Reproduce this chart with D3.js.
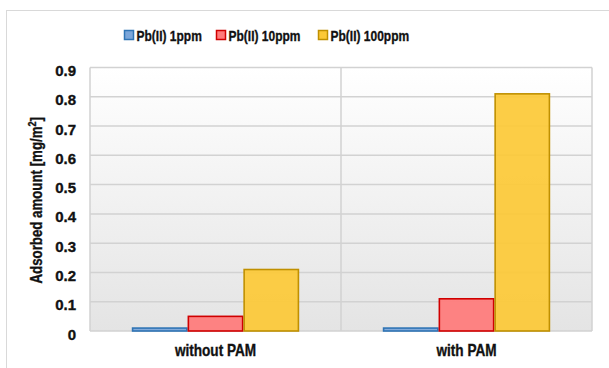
<!DOCTYPE html>
<html>
<head>
<meta charset="utf-8">
<script src="https://cdn.jsdelivr.net/npm/d3@7"></script>
<style>
  html, body { margin: 0; padding: 0; background: #fff; }
  svg { display: block; }
  text { font-family: "Liberation Sans", Arial, sans-serif; font-weight: bold; fill: #111; stroke: #111; stroke-width: 0.35px; }
</style>
</head>
<body>
<script>
// Adsorbed Pb(II) amount per sample condition
const categories = ["without PAM", "with PAM"];
const seriesNames = ["Pb(II) 1ppm", "Pb(II) 10ppm", "Pb(II) 100ppm"];
const pb1ppm = [0.01, 0.01];
const pb10ppm = [0.05, 0.11];
const pb100ppm = [0.21, 0.81];
const yTicks = [0, 0.1, 0.2, 0.3, 0.4, 0.5, 0.6, 0.7, 0.8, 0.9];
const yTickLabels = ["0", "0.1", "0.2", "0.3", "0.4", "0.5", "0.6", "0.7", "0.8", "0.9"];

const seriesValues = [pb1ppm, pb10ppm, pb100ppm];
const fills = ["#7ba6da", "#ff7a7a", "#fcc936"];
const strokes = ["#2f74b5", "#d00000", "#c09000"];

const W = 609, H = 368;
const plot = { left: 90, top: 67.5, right: 592, bottom: 331 };

const svg = d3.select("body").append("svg").attr("width", W).attr("height", H);

// outer chart frame
svg.append("rect").attr("x", 6.5).attr("y", 10.5).attr("width", W).attr("height", H)
  .attr("fill", "none").attr("stroke", "#d9d9d9").attr("stroke-width", 1);

const defs = svg.append("defs");
const grad = defs.append("linearGradient").attr("id", "plotBg").attr("x1", 0).attr("y1", 0).attr("x2", 0).attr("y2", 1);
grad.append("stop").attr("offset", "0%").attr("stop-color", "#ffffff");
grad.append("stop").attr("offset", "100%").attr("stop-color", "#e4e4e4");

const x0 = d3.scaleBand().domain(categories).range([plot.left, plot.right]).paddingInner(0).paddingOuter(0);
const x1 = d3.scaleBand().domain(seriesNames).range([0, x0.bandwidth()]).paddingOuter(0.75).paddingInner(0);
const y = d3.scaleLinear().domain([0, 0.9]).range([plot.bottom, plot.top]);

svg.append("rect").attr("x", plot.left).attr("y", plot.top)
  .attr("width", plot.right - plot.left).attr("height", plot.bottom - plot.top)
  .attr("fill", "url(#plotBg)");

// horizontal gridlines
svg.append("g").selectAll("line").data(yTicks).join("line")
  .attr("x1", plot.left).attr("x2", plot.right)
  .attr("y1", d => y(d)).attr("y2", d => y(d))
  .attr("stroke", "#d2d2d2").attr("stroke-width", 1.5);

// vertical gridlines at category boundaries
const vlines = categories.map(c => x0(c)).concat([plot.right]);
svg.append("g").selectAll("line").data(vlines).join("line")
  .attr("x1", d => d).attr("x2", d => d)
  .attr("y1", plot.top).attr("y2", plot.bottom)
  .attr("stroke", "#d2d2d2").attr("stroke-width", 1.5);

// bars
const barData = [];
categories.forEach((c, ci) => seriesNames.forEach((s, si) => {
  barData.push({ cat: c, s, si, v: seriesValues[si][ci] });
}));
svg.append("g").selectAll("rect").data(barData).join("rect")
  .attr("x", d => x0(d.cat) + x1(d.s) + 0.75)
  .attr("y", d => y(d.v))
  .attr("width", x1.bandwidth() - 1.5)
  .attr("height", d => y(0) - y(d.v))
  .attr("fill", d => fills[d.si]).attr("fill-opacity", 0.92)
  .attr("stroke", d => strokes[d.si]).attr("stroke-width", 1.6);

// y axis labels
const yAxis = d3.axisLeft(y).tickValues(yTicks).tickFormat((d, i) => yTickLabels[i]).tickSize(0).tickPadding(14);
const ga = svg.append("g").attr("transform", `translate(${plot.left},0)`).call(yAxis);
ga.select(".domain").remove();
ga.selectAll("text").style("font-size", "15px").attr("fill", "#111").attr("dy", "0.54em");

// x axis labels
const xAxis = d3.axisBottom(x0).tickSize(0).tickPadding(14);
const gx = svg.append("g").attr("transform", `translate(0,${plot.bottom})`).call(xAxis);
gx.select(".domain").remove();
gx.selectAll("text").style("font-size", "16px").attr("fill", "#111")
  .attr("transform", "scale(0.85,1)");

// y axis title
const yt = svg.append("text")
  .attr("transform", `translate(41.5,${(plot.top + plot.bottom) / 2 + 1}) rotate(-90) scale(0.83,1)`)
  .attr("text-anchor", "middle").style("font-size", "16px");
yt.append("tspan").text("Adsorbed amount [mg/m");
yt.append("tspan").attr("baseline-shift", "super").style("font-size", "11px").text("2");
yt.append("tspan").text("]");

// legend
const legendX = [124, 216, 318];
const lg = svg.append("g").selectAll("g").data(seriesNames).join("g")
  .attr("transform", (d, i) => `translate(${legendX[i]},30)`);
lg.append("rect").attr("x", 0.5).attr("y", 0.5).attr("width", 9).attr("height", 9)
  .attr("fill", (d, i) => fills[i]).attr("stroke", (d, i) => strokes[i]).attr("stroke-width", 1.5);
lg.append("text").attr("transform", "translate(12.5,10.5) scale(0.8,1)")
  .style("font-size", "15px").text(d => d);
</script>
</body>
</html>
